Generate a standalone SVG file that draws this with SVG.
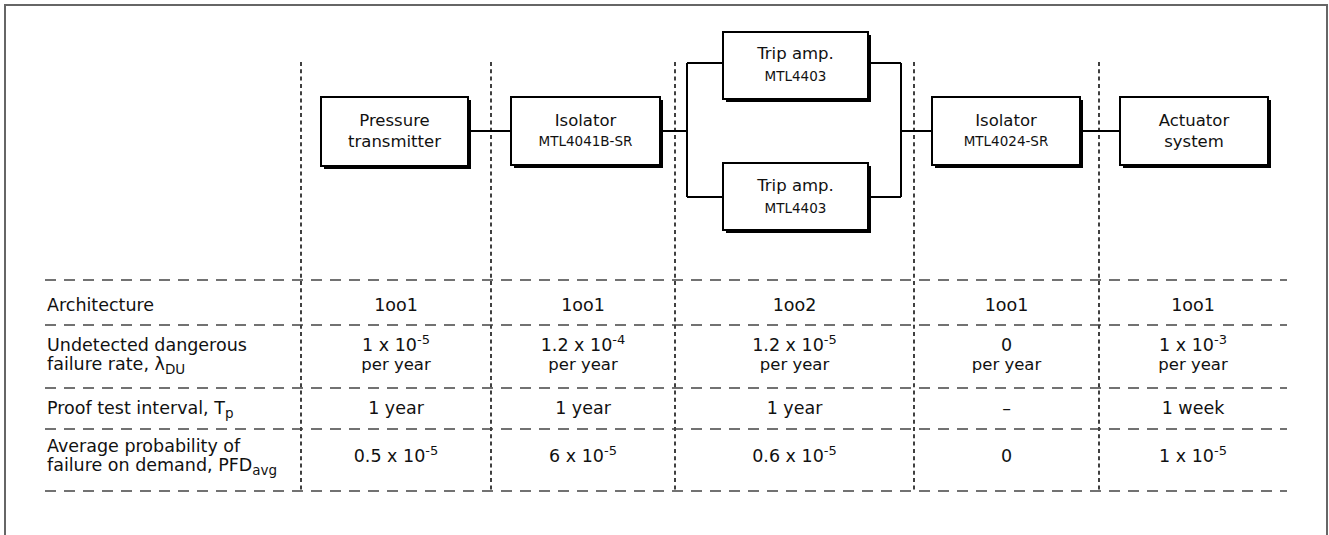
<svg xmlns="http://www.w3.org/2000/svg" width="1329" height="535" viewBox="0 0 1329 535">
<style>
text{font-family:"DejaVu Sans","Liberation Sans",sans-serif;fill:#111;}
.t{font-size:16.5px;text-anchor:middle;}
.s{font-size:13.5px;text-anchor:middle;}
.lab{font-size:17.5px;}
.v{font-size:17.5px;text-anchor:middle;}
.py{font-size:16.5px;text-anchor:middle;}
.sup{font-size:13px;}
.sub{font-size:13.5px;}
.box{fill:#fff;stroke:#000;stroke-width:2;}
.shd{fill:#000;}
.con{fill:none;stroke:#000;stroke-width:2;}
.hd{stroke:#444;stroke-width:1.6;stroke-dasharray:11 8;fill:none;}
.vd{stroke:#111;stroke-width:1.6;stroke-dasharray:4 3.3;fill:none;}
</style>
<rect x="0" y="0" width="1329" height="535" fill="#fff"/>
<rect x="5" y="5" width="1322" height="560" fill="none" stroke="#666" stroke-width="2"/>

<g id="grid">
<path class="vd" d="M301 62V491M491 62V491M675 62V491M914 62V491M1099 62V491"/>
<path class="hd" d="M45 280H1287M45 325H1287M45 388H1287M45 429H1287M45 491H1287"/>
</g>

<g id="connectors">
<path class="con" d="M468 131H511M660 131H687M687 63V197M687 63H723M687 197H723M868 63H901M868 197H901M901 63V197M901 131H932M1080 131H1120"/>
</g>

<g id="pressure-transmitter">
<rect class="shd" x="324" y="100" width="147" height="69"/>
<rect class="box" x="321" y="97" width="147" height="69"/>
<text class="t" x="394.5" y="126">Pressure</text>
<text class="t" x="394.5" y="147">transmitter</text>
</g>

<g id="isolator-1">
<rect class="shd" x="514" y="100" width="149" height="68"/>
<rect class="box" x="511" y="97" width="149" height="68"/>
<text class="t" x="585.5" y="126">Isolator</text>
<text class="s" x="585.5" y="146">MTL4041B-SR</text>
</g>

<g id="trip-amp-1">
<rect class="shd" x="726" y="35" width="145" height="67"/>
<rect class="box" x="723" y="32" width="145" height="67"/>
<text class="t" x="795.5" y="59">Trip amp.</text>
<text class="s" x="795.5" y="81">MTL4403</text>
</g>

<g id="trip-amp-2">
<rect class="shd" x="726" y="166" width="145" height="67"/>
<rect class="box" x="723" y="163" width="145" height="67"/>
<text class="t" x="795.5" y="191">Trip amp.</text>
<text class="s" x="795.5" y="213">MTL4403</text>
</g>

<g id="isolator-2">
<rect class="shd" x="935" y="100" width="148" height="68"/>
<rect class="box" x="932" y="97" width="148" height="68"/>
<text class="t" x="1006" y="126">Isolator</text>
<text class="s" x="1006" y="146">MTL4024-SR</text>
</g>

<g id="actuator-system">
<rect class="shd" x="1123" y="100" width="148" height="68"/>
<rect class="box" x="1120" y="97" width="148" height="68"/>
<text class="t" x="1194" y="126">Actuator</text>
<text class="t" x="1194" y="147">system</text>
</g>

<g id="table-labels">
<text class="lab" x="47" y="311">Architecture</text>
<text class="lab" x="47" y="351">Undetected dangerous</text>
<text class="lab" x="47" y="370">failure rate, λ<tspan class="sub" dy="4">DU</tspan></text>
<text class="lab" x="47" y="414">Proof test interval, T<tspan class="sub" dy="4">p</tspan></text>
<text class="lab" x="47" y="452">Average probability of</text>
<text class="lab" x="47" y="471">failure on demand, PFD<tspan class="sub" dy="4">avg</tspan></text>
</g>

<g id="table-values">
<text class="v" x="396" y="311">1oo1</text>
<text class="v" x="583" y="311">1oo1</text>
<text class="v" x="794.5" y="311">1oo2</text>
<text class="v" x="1006.5" y="311">1oo1</text>
<text class="v" x="1193" y="311">1oo1</text>

<text class="v" x="396" y="351">1 x 10<tspan class="sup" dy="-7">-5</tspan></text>
<text class="py" x="396" y="370">per year</text>
<text class="v" x="583" y="351">1.2 x 10<tspan class="sup" dy="-7">-4</tspan></text>
<text class="py" x="583" y="370">per year</text>
<text class="v" x="794.5" y="351">1.2 x 10<tspan class="sup" dy="-7">-5</tspan></text>
<text class="py" x="794.5" y="370">per year</text>
<text class="v" x="1006.5" y="351">0</text>
<text class="py" x="1006.5" y="370">per year</text>
<text class="v" x="1193" y="351">1 x 10<tspan class="sup" dy="-7">-3</tspan></text>
<text class="py" x="1193" y="370">per year</text>

<text class="v" x="396" y="414">1 year</text>
<text class="v" x="583" y="414">1 year</text>
<text class="v" x="794.5" y="414">1 year</text>
<text class="v" x="1006.5" y="414">–</text>
<text class="v" x="1193" y="414">1 week</text>

<text class="v" x="396" y="462">0.5 x 10<tspan class="sup" dy="-7">-5</tspan></text>
<text class="v" x="583" y="462">6 x 10<tspan class="sup" dy="-7">-5</tspan></text>
<text class="v" x="794.5" y="462">0.6 x 10<tspan class="sup" dy="-7">-5</tspan></text>
<text class="v" x="1006.5" y="462">0</text>
<text class="v" x="1193" y="462">1 x 10<tspan class="sup" dy="-7">-5</tspan></text>
</g>
</svg>
